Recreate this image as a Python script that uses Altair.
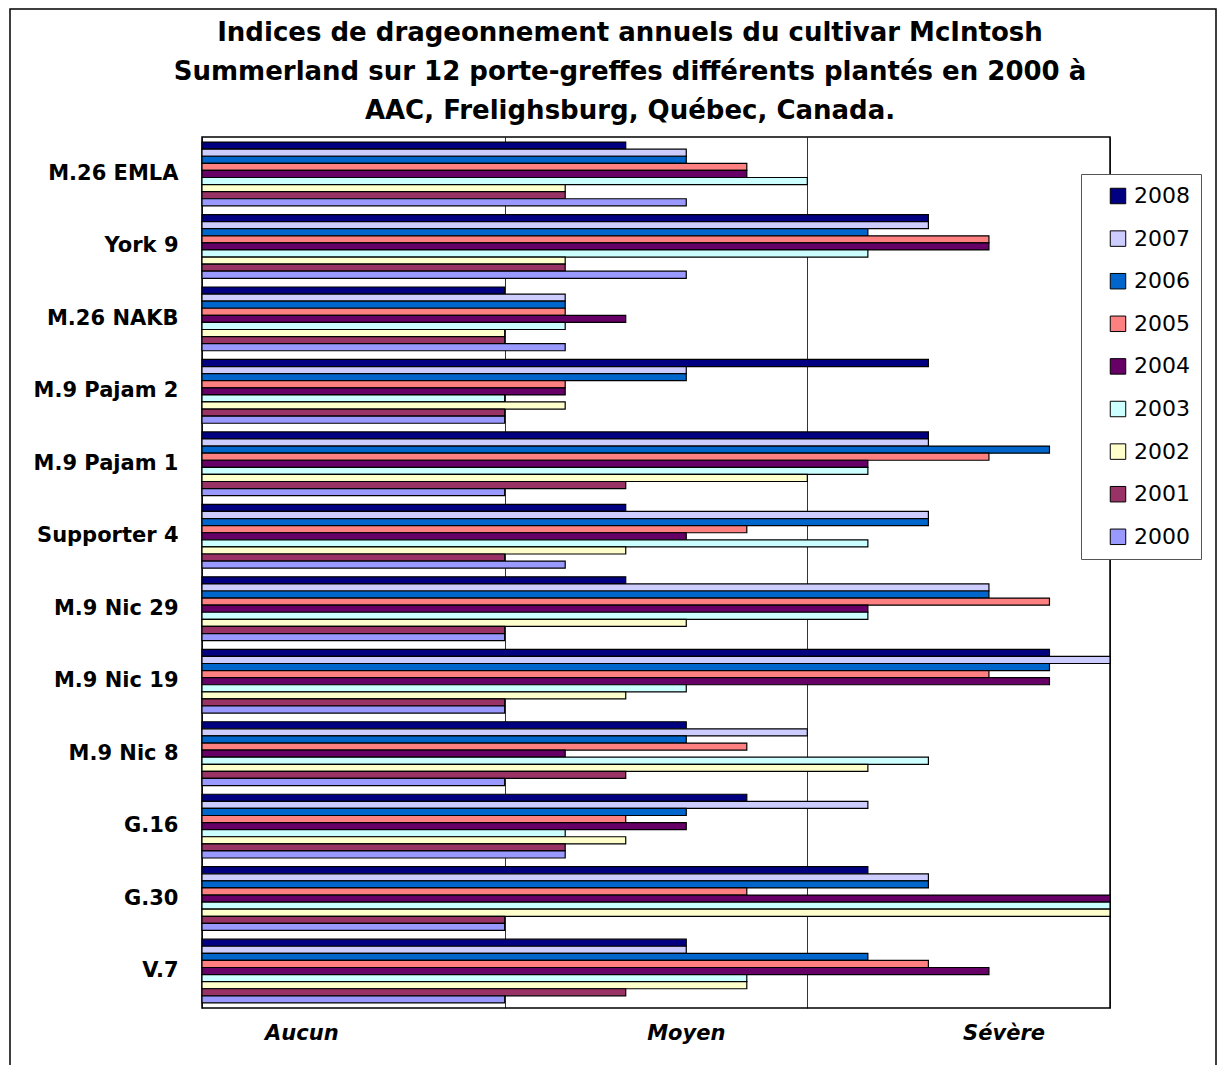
import altair as alt
import pandas as pd

categories = ["M.26 EMLA", "York 9", "M.26 NAKB", "M.9 Pajam 2", "M.9 Pajam 1",
              "Supporter 4", "M.9 Nic 29", "M.9 Nic 19", "M.9 Nic 8", "G.16", "G.30", "V.7"]
years = ["2008", "2007", "2006", "2005", "2004", "2003", "2002", "2001", "2000"]

v2008 = [1.4, 2.4, 1.0, 2.4, 2.4, 1.4, 1.4, 2.8, 1.6, 1.8, 2.2, 1.6]
v2007 = [1.6, 2.4, 1.2, 1.6, 2.4, 2.4, 2.6, 3.0, 2.0, 2.2, 2.4, 1.6]
v2006 = [1.6, 2.2, 1.2, 1.6, 2.8, 2.4, 2.6, 2.8, 1.6, 1.6, 2.4, 2.2]
v2005 = [1.8, 2.6, 1.2, 1.2, 2.6, 1.8, 2.8, 2.6, 1.8, 1.4, 1.8, 2.4]
v2004 = [1.8, 2.6, 1.4, 1.2, 2.2, 1.6, 2.2, 2.8, 1.2, 1.6, 3.0, 2.6]
v2003 = [2.0, 2.2, 1.2, 1.0, 2.2, 2.2, 2.2, 1.6, 2.4, 1.2, 3.0, 1.8]
v2002 = [1.2, 1.2, 1.0, 1.2, 2.0, 1.4, 1.6, 1.4, 2.2, 1.4, 3.0, 1.8]
v2001 = [1.2, 1.2, 1.0, 1.0, 1.4, 1.0, 1.0, 1.0, 1.4, 1.2, 1.0, 1.4]
v2000 = [1.6, 1.6, 1.2, 1.0, 1.0, 1.2, 1.0, 1.0, 1.0, 1.2, 1.0, 1.0]

colors = ["#000080", "#CCCCFF", "#0066CC", "#FF8080", "#660066",
          "#CCFFFF", "#FFFFCC", "#993366", "#9999FF"]

bottom_labels = ["Aucun", "Moyen", "Sévère"]
bottom_label_x = [0.33, 1.6, 2.65]

title_lines = ["Indices de drageonnement annuels du cultivar McIntosh",
               "Summerland sur 12 porte-greffes différents plantés en 2000 à",
               "AAC, Frelighsburg, Québec, Canada."]

series = dict(zip(years, [v2008, v2007, v2006, v2005, v2004, v2003, v2002, v2001, v2000]))
rows = []
for y in years:
    for i, c in enumerate(categories):
        rows.append({"porte_greffe": c, "annee": y, "indice": series[y][i]})
df = pd.DataFrame(rows)

xscale = alt.Scale(domain=[0, 3], nice=False, zero=True)

bars = alt.Chart(df).mark_bar(stroke="#000", strokeWidth=1.2).encode(
    y=alt.Y("porte_greffe:N", sort=categories,
            scale=alt.Scale(paddingInner=0.12, paddingOuter=0.07),
            axis=alt.Axis(title=None, labelFont="DejaVu Sans", labelFontSize=21,
                          labelFontWeight="bold", labelColor="#000", labelPadding=24,
                          ticks=False, tickSize=0, domain=False, labelLimit=400)),
    yOffset=alt.YOffset("annee:N", sort=years,
                        scale=alt.Scale(domain=years, paddingInner=0, paddingOuter=0)),
    x=alt.X("indice:Q", scale=xscale,
            axis=alt.Axis(title=None, values=[0, 1, 2, 3], labels=False, ticks=False,
                          domain=False, grid=True, gridColor="#000", gridWidth=0.8)),
    color=alt.Color("annee:N", sort=years,
                    scale=alt.Scale(domain=years, range=colors),
                    legend=alt.Legend(title=None, orient="none", legendX=879, legendY=37,
                                      symbolType="square", symbolSize=240,
                                      symbolStrokeColor="#000", symbolStrokeWidth=1,
                                      labelFont="DejaVu Sans", labelFontSize=22,
                                      labelColor="#000", rowPadding=20.6, padding=11,
                                      symbolOffset=15, labelOffset=5,
                                      strokeColor="#555", fillColor="#fff")),
)

text = alt.Chart(pd.DataFrame({"t": bottom_labels, "x": bottom_label_x})).mark_text(
    font="DejaVu Sans", fontSize=21, fontWeight="bold", fontStyle="italic",
    baseline="middle", align="center", color="#000"
).encode(
    x=alt.X("x:Q", scale=xscale),
    y=alt.value(897),
    text="t:N",
)

title = alt.Chart(pd.DataFrame({"f": [0]})).mark_text(
    font="DejaVu Sans", fontSize=26, fontWeight="bold", lineHeight=39,
    baseline="middle", align="center", color="#000"
).encode(
    x=alt.value(428), y=alt.value(-104), text=alt.value(title_lines)
)

frame = alt.Chart(pd.DataFrame({"f": [0]})).mark_rect(
    fill="transparent", stroke="#000", strokeWidth=1.5
).encode(
    x=alt.value(-192), x2=alt.value(1014), y=alt.value(-128), y2=alt.value(980)
)

chart = alt.layer(frame, bars, text, title).properties(
    width=908, height=871,
    padding={"left": 194, "top": 129, "right": 107, "bottom": 57},
    autosize=alt.AutoSizeParams(type="none"),
).configure_view(stroke="#000", strokeWidth=1.5)

chart.save("out.html", embed_options={"renderer": "svg", "actions": False})
